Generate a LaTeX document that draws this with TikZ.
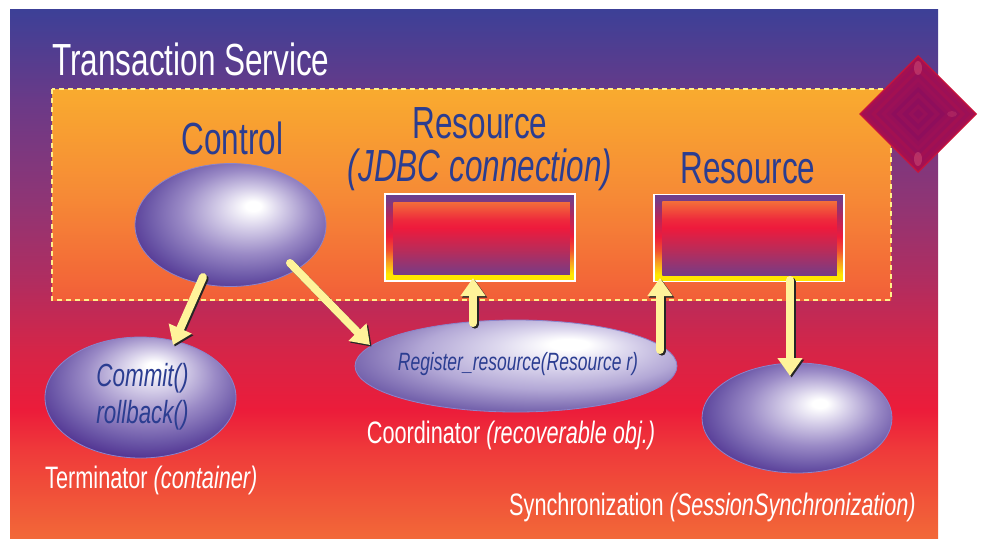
\documentclass[tikz,border=0pt]{standalone}
\usepackage{fontspec}
\setmainfont{Liberation Sans}[FakeStretch=0.7]
\usetikzlibrary{shapes.geometric,arrows.meta,calc}

% palette
\definecolor{bgA}{HTML}{3C4097}
\definecolor{bgB}{HTML}{6A3A88}
\definecolor{bgC}{HTML}{8F3575}
\definecolor{bgD}{HTML}{B02D60}
\definecolor{bgE}{HTML}{D52548}
\definecolor{bgF}{HTML}{EC1C3A}
\definecolor{bgG}{HTML}{EF3A3A}
\definecolor{bgH}{HTML}{F26838}
\definecolor{navy}{HTML}{2B3D91}
\definecolor{dashY}{HTML}{FFF08A}
\definecolor{boxTop}{HTML}{F9AB2F}
\definecolor{boxMid}{HTML}{F68A36}
\definecolor{boxBot}{HTML}{F25F38}
\definecolor{arrowY}{HTML}{FFF39A}
\definecolor{ballD}{HTML}{4A2A8C}
\definecolor{ballN}{HTML}{6C58A8}
\definecolor{ballM}{HTML}{9A8AC6}
\definecolor{ballL}{HTML}{D6CFE9}
\definecolor{ballE}{HTML}{8B84CC}
\definecolor{cD}{HTML}{7462AC}
\definecolor{cM}{HTML}{B3A8D6}
\definecolor{cL}{HTML}{DDD8EE}
\definecolor{fY}{HTML}{FFE600}
\definecolor{fO}{HTML}{F8A020}
\definecolor{fR2}{HTML}{F25030}
\definecolor{fR}{HTML}{EE1A3C}
\definecolor{fP2}{HTML}{B0285E}
\definecolor{fP}{HTML}{6E3E8C}
\definecolor{iP}{HTML}{763C86}
\definecolor{iP2}{HTML}{B82C5A}
\definecolor{iR}{HTML}{EE2A3C}
\definecolor{iO}{HTML}{F36C3A}
\definecolor{dmEdge}{HTML}{C8143C}
\definecolor{dmA}{HTML}{A31052}
\definecolor{dmB}{HTML}{9C1057}
\definecolor{dmC}{HTML}{961059}
\definecolor{dmD}{HTML}{8E0E5C}
\definecolor{dmH}{HTML}{D8587A}

% background gradient, blue at the top to orange at the bottom
\pgfdeclareverticalshading{bgshade}{100bp}{color(0bp)=(bgH); color(25bp)=(bgH);
  color(33.3bp)=(bgG); color(37.1bp)=(bgF); color(42.8bp)=(bgE); color(49.4bp)=(bgD);
  color(56.9bp)=(bgC); color(66.4bp)=(bgB); color(75bp)=(bgA); color(100bp)=(bgA)}
% resource box: outer frame and inner panel
\pgfdeclareverticalshading{frameshade}{100bp}{color(0bp)=(fY); color(25bp)=(fY);
  color(29bp)=(fY); color(35.9bp)=(fO); color(42.8bp)=(fR2); color(50.9bp)=(fR);
  color(62.9bp)=(fP2); color(73.3bp)=(fP); color(100bp)=(fP)}
\pgfdeclareverticalshading{innershade}{100bp}{color(0bp)=(iP); color(25bp)=(iP);
  color(41.9bp)=(iP2); color(57.4bp)=(fR); color(63bp)=(iR); color(75bp)=(iO);
  color(100bp)=(iO)}
% spheres with an off-centre highlight
\pgfdeclareradialshading{ballctrl}{\pgfpoint{6.2bp}{8bp}}{color(0bp)=(white);
  color(2bp)=(white); color(8bp)=(ballL); color(17bp)=(ballM); color(25bp)=(ballN);
  color(32bp)=(ballD); color(50bp)=(ballD)}
\pgfdeclareradialshading{ballterm}{\pgfpoint{3.8bp}{13.4bp}}{color(0bp)=(white);
  color(2bp)=(white); color(8bp)=(ballL); color(17bp)=(ballM); color(25bp)=(ballN);
  color(32bp)=(ballD); color(50bp)=(ballD)}
\pgfdeclareradialshading{ballsync}{\pgfpoint{6.3bp}{6.8bp}}{color(0bp)=(white);
  color(2bp)=(white); color(8bp)=(ballL); color(17bp)=(ballM); color(25bp)=(ballN);
  color(32bp)=(ballD); color(50bp)=(ballD)}
\pgfdeclareradialshading{ballcoord}{\pgfpoint{8.8bp}{12.5bp}}{color(0bp)=(white);
  color(3bp)=(white); color(10bp)=(cL); color(20bp)=(cM); color(30bp)=(cD);
  color(50bp)=(cD)}

\tikzset{
  bigtxt/.style={font=\fontsize{45}{50}\selectfont, text=navy, inner sep=0pt},
  lbl/.style={font=\fontsize{31}{36}\selectfont, text=white, inner sep=0pt},
  intxt/.style={font=\fontsize{32}{36}\selectfont\itshape, text=navy, inner sep=0pt},
  ball/.style={ellipse, inner sep=0pt, draw=ballE, line width=0.8pt, shade},
  resbox/.style={rectangle, inner sep=0pt, minimum width=190pt, minimum height=87pt,
    draw=white, line width=1.5pt, shade, shading=frameshade},
  dashbox/.style={draw=dashY, line width=2.5pt, dash pattern=on 5pt off 4pt,
    top color=boxTop, bottom color=boxBot, middle color=boxMid},
  yarrow/.style={draw=arrowY, line width=8pt, line cap=round,
    -{Triangle[width=24pt,length=18pt]}},
  yshadow/.style={draw=black!85, line width=8pt, line cap=round,
    -{Triangle[width=24pt,length=18pt]},
    transform canvas={xshift=1.6pt,yshift=-1.6pt}}
}

\begin{document}
\begin{tikzpicture}[x=1pt,y=-1pt]
\useasboundingbox (0,0) rectangle (982,542);

% service area
\shade[shading=bgshade] (10,9) rectangle (938,538);
\draw[dashbox] (52,89) rectangle (891,300);

% corner emblem
\foreach \r/\c in {59/dmEdge,57/dmA,52/dmB,47/dmA,42/dmC,37/dmB,32/dmC,27/dmD,22/dmC,16/dmD,10/dmC,5/dmD}
  \fill[\c] (918-\r,114) -- (918,114-\r) -- (918+\r,114) -- (918,114+\r) -- cycle;
\fill[dmH, opacity=0.45] (918,68) ellipse (4 and 7);
\fill[dmH, opacity=0.45] (918,159) ellipse (4 and 7);
\fill[dmH, opacity=0.25] (952,114) ellipse (5 and 3);

% headings
\node[bigtxt, text=white, anchor=base west] (title) at (52,75) {Transaction Service};
\node[bigtxt, anchor=base] (ctrl-lbl) at (232.5,154) {Control};
\node[bigtxt, anchor=base] (res1-lbl) at (480,138) {Resource};
\node[bigtxt, anchor=base] (res1-sub) at (480,181) {\itshape (JDBC connection)};
\node[bigtxt, anchor=base] (res2-lbl) at (748,183) {Resource};

% resource boxes
\node[resbox] (res1) at (480,237.5) {};
\shade[shading=innershade] ($(res1.north west)+(9,9)$) rectangle ($(res1.south east)+(-6,-7)$);
\node[resbox] (res2) at (749,238) {};
\shade[shading=innershade] ($(res2.north west)+(9,8)$) rectangle ($(res2.south east)+(-8,-7)$);

% objects
\node[ball, shading=ballctrl, minimum width=191pt, minimum height=123pt] (ctrl) at (230.5,225) {};
\node[ball, shading=ballterm, minimum width=191pt, minimum height=121pt] (term) at (140.5,397.5) {};
\node[ball, shading=ballcoord, minimum width=322pt, minimum height=92pt] (coord) at (516,366) {};
\node[ball, shading=ballsync, minimum width=190pt, minimum height=110pt] (sync) at (797,418) {};

% connector end points
\coordinate (a1s) at ($(ctrl)+(-27.5,52)$);
\coordinate (a1e) at ($(term)+(32.5,-52.5)$);
\coordinate (a2s) at ($(ctrl)+(59.5,38)$);
\coordinate (a2e) at ($(coord)+(-146,-21)$);
\coordinate (a3s) at ($(coord)+(-43,-43)$);
\coordinate (a3e) at ($(res1)+(-7,40.5)$);
\coordinate (a4s) at ($(coord)+(144,-16)$);
\coordinate (a4e) at ($(res2)+(-89,40)$);
\coordinate (a5s) at ($(res2)+(41,42)$);
\coordinate (a5e) at ($(sync)+(-7,-42)$);

% connectors
\foreach \s/\e in {a1s/a1e,a2s/a2e,a3s/a3e,a4s/a4e,a5s/a5e}{
  \draw[yshadow] (\s) -- (\e);
  \draw[yarrow] (\s) -- (\e);
}

% texts inside the objects
\node[intxt, anchor=base] (commit) at (142.5,386) {Commit()};
\node[intxt, anchor=base] (rollback) at (142.5,423) {rollback()};
\node[intxt, font=\fontsize{25}{30}\selectfont\itshape, anchor=base] (register) at (518,370) {Register\_resource(Resource r)};

% captions
\node[lbl, anchor=base west] (term-lbl) at (45,488) {Terminator \textit{(container)}};
\node[lbl, anchor=base] (coord-lbl) at (511,443) {Coordinator \textit{(recoverable obj.)}};
\node[lbl, anchor=base west] (sync-lbl) at (509,515) {Synchronization \textit{(SessionSynchronization)}};
\end{tikzpicture}
\end{document}
